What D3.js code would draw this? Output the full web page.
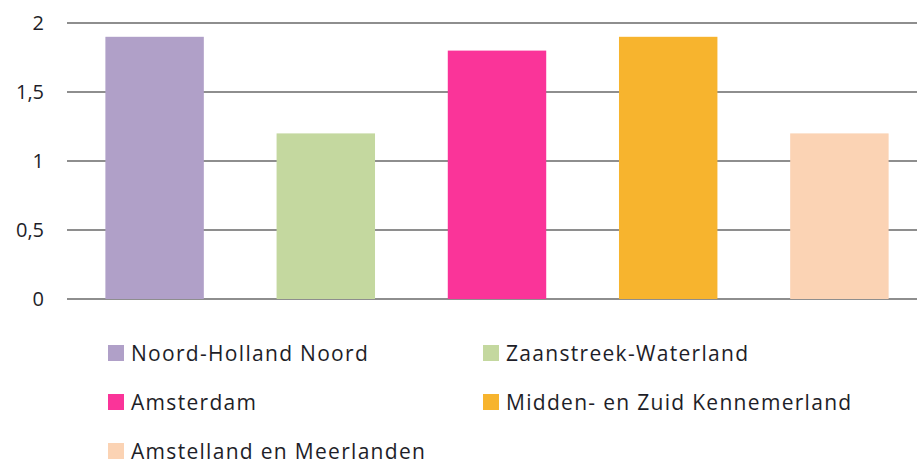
<!DOCTYPE html>
<html>
<head>
<meta charset="utf-8">
<script src="https://cdn.jsdelivr.net/npm/d3@7"></script>
<style>
  body { margin: 0; background: #fff; }
  text { font-family: "Open Sans", sans-serif; fill: #1e1e28; }
</style>
</head>
<body>
<svg id="chart" width="917" height="461"></svg>
<script>
const regions = ['Noord-Holland Noord', 'Zaanstreek-Waterland', 'Amsterdam', 'Midden- en Zuid Kennemerland', 'Amstelland en Meerlanden']
const values = [1.9, 1.2, 1.8, 1.9, 1.2]
const colors = ['#b0a0c8', '#c4d89f', '#fa3499', '#f7b42e', '#fbd3b4']
const yTicks = [0, 0.5, 1, 1.5, 2]

const svg = d3.select('#chart')

const x = d3.scaleBand()
  .domain(regions)
  .range([69, 925])
  .paddingInner(0.425)
  .paddingOuter(0.2125)

const y = d3.scaleLinear()
  .domain([0, 2])
  .range([299, 23])

const fmt = (d) => String(d).replace('.', ',')

// gridlines
svg.append('g')
  .selectAll('line')
  .data(yTicks)
  .enter().append('line')
    .attr('x1', 67)
    .attr('x2', 917)
    .attr('y1', (d) => y(d))
    .attr('y2', (d) => y(d))
    .attr('stroke', '#8e8e8e')
    .attr('stroke-width', 2)

// y labels
svg.append('g')
  .selectAll('text')
  .data(yTicks)
  .enter().append('text')
    .attr('x', 44)
    .attr('y', (d) => y(d))
    .attr('dy', '0.35em')
    .attr('text-anchor', 'end')
    .attr('font-size', 20)
    .text(fmt)

// bars
svg.append('g')
  .selectAll('rect')
  .data(values)
  .enter().append('rect')
    .attr('x', (d, i) => x(regions[i]))
    .attr('width', x.bandwidth())
    .attr('y', (d) => y(d))
    .attr('height', (d) => y(0) - y(d))
    .attr('fill', (d, i) => colors[i])

// legend
const legend = svg.append('g')
  .selectAll('g')
  .data(regions)
  .enter().append('g')
    .attr('transform', (d, i) => `translate(${i % 2 ? 483 : 108},${345 + Math.floor(i / 2) * 49})`)

legend.append('rect')
  .attr('width', 16)
  .attr('height', 16)
  .attr('fill', (d, i) => colors[i])

legend.append('text')
  .attr('x', 23)
  .attr('y', 8)
  .attr('dy', '0.36em')
  .attr('font-size', 21)
  .attr('letter-spacing', 1.3)
  .text((d) => d)
</script>
</body>
</html>
